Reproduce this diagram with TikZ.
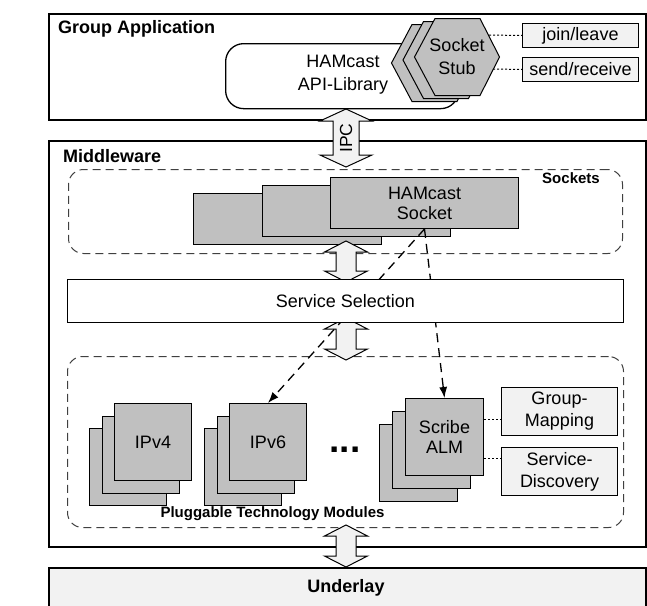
\documentclass[tikz,border=0pt]{standalone}
\usepackage{fontspec}
\setmainfont{Liberation Sans}
\usetikzlibrary{calc,arrows.meta}
\definecolor{gfill}{HTML}{C0C0C0}
\definecolor{lfill}{HTML}{F2F2F2}
\newcommand\myhex[1]{\draw[hexst] ($(#1)+(-42.5,0)$) -- ++(20.5,-38.5) -- ++(45,0) -- ++(19.5,38.5) -- ++(-19.5,38.5) -- ++(-45,0) -- cycle;}
% #1 top tip, #2 bottom tip, #3 shaft half width, #4 head half width, #5 head length
\newcommand\mydblarrow[5]{\draw[blockarrow] (#1) -- ++(#4,#5) -- ++(#3-#4,0) -- ($(#2)+(#3,-#5)$) -- ++(#4-#3,0) -- (#2) -- ++(-#4,-#5) -- ++(#4-#3,0) -- ($(#1)+(-#3,#5)$) -- ++(#3-#4,0) -- cycle;}
\tikzset{
 outerbox/.style={draw, line width=1.8pt, inner sep=0pt, anchor=north west},
 ttl/.style={font=\fontsize{18}{21}\selectfont\bfseries, anchor=west, inner sep=0pt},
 smallttl/.style={font=\fontsize{15}{18}\selectfont\bfseries, inner sep=0pt},
 txt/.style={font=\fontsize{18}{21}\selectfont, align=center, inner sep=0pt},
 gbox/.style={draw, fill=gfill, line width=1pt, inner sep=0pt, anchor=north west, align=center, font=\fontsize{18}{20}\selectfont},
 lbox/.style={draw, fill=lfill, line width=1pt, inner sep=0pt, anchor=north west, align=center, font=\fontsize{18}{22}\selectfont},
 dbox/.style={draw=black!75, dash pattern=on 8pt off 5pt, rounded corners=15pt, line width=1pt, inner sep=0pt, anchor=north west},
 dlink/.style={line width=1.3pt, dash pattern=on 9pt off 6pt, -{Latex[length=11pt,width=8pt]}},
 dotlink/.style={line width=1pt, dash pattern=on 2pt off 2pt},
 blockarrow/.style={draw, fill=lfill, line width=1pt, line join=miter},
 hexst/.style={draw, fill=gfill, line width=1pt, line join=miter},
}
\begin{document}
\begin{tikzpicture}[x=1pt,y=-1pt]
\useasboundingbox (0,0) rectangle (647,605);
\clip (0,0) rectangle (647,605);
% ---------------- Group Application ----------------
\node[outerbox, minimum width=597, minimum height=106] (ga) at (48,13) {};
\node[ttl] (gatitle) at (58,29) {Group Application};
\node[draw, line width=1.3pt, fill=white, rounded corners=18pt, anchor=north west, minimum width=233, minimum height=65, inner sep=0pt] (api) at (225,43) {};
\node[txt, font=\fontsize{18}{23}\selectfont] (apitext) at (343,75) {HAMcast\\API-Library};
\coordinate (hexc) at (434,63);
\coordinate (hexb) at (445.5,60);
\coordinate (hexa) at (457,57);
\myhex{hexc}
\myhex{hexb}
\myhex{hexa}
\node[txt, font=\fontsize{18}{23}\selectfont] (stub) at (457,56.5) {Socket\\Stub};
\node[lbox, minimum width=116, minimum height=24] (jl) at (522,23) {join/leave};
\node[lbox, minimum width=116, minimum height=24] (sr) at (522,57) {send/receive};
\coordinate (h1) at (489,35);
\coordinate (h2) at (493,69);
\draw[dotlink] (h1) -- (jl.west);
\draw[dotlink] (h2) -- (sr.west);
% ---------------- Middleware ----------------
\node[outerbox, minimum width=597, minimum height=406] (mw) at (48,140) {};
\node[ttl] (mwtitle) at (63,156) {Middleware};
\node[dbox, minimum width=554, minimum height=84] (sockets) at (68,169) {};
\node[smallttl] (socklabel) at (571,178) {Sockets};
\node[gbox, minimum width=188, minimum height=51] (sockC) at (193,193) {};
\node[gbox, minimum width=188, minimum height=51] (sockB) at (262,185) {};
\node[gbox, minimum width=188, minimum height=51] (sockA) at (330,177) {HAMcast\\Socket};
\node[dbox, minimum width=556, minimum height=171] (ptm) at (67,356) {};
\node[smallttl] (ptmlabel) at (272.5,514) {Pluggable Technology Modules};
% technology stacks
\node[gbox, minimum width=77, minimum height=77] (ipv4C) at (89,428) {};
\node[gbox, minimum width=77, minimum height=77] (ipv4B) at (101.5,415.5) {};
\node[gbox, minimum width=77, minimum height=77] (ipv4A) at (114,403) {IPv4};
\node[gbox, minimum width=77, minimum height=77] (ipv6C) at (204,428) {};
\node[gbox, minimum width=77, minimum height=77] (ipv6B) at (216.5,415.5) {};
\node[gbox, minimum width=77, minimum height=77] (ipv6A) at (229,403) {IPv6};
\node[font=\fontsize{37}{37}\selectfont\bfseries, anchor=base, inner sep=0pt] (dots) at (345,452) {...};
\node[gbox, minimum width=78, minimum height=77] (scrC) at (379,424) {};
\node[gbox, minimum width=78, minimum height=77] (scrB) at (392,411) {};
\node[gbox, minimum width=78, minimum height=77] (scrA) at (405,398) {Scribe\\ALM};
\node[lbox, minimum width=116, minimum height=48] (gm) at (501,387) {Group-\\Mapping};
\node[lbox, minimum width=116, minimum height=48] (sd) at (501,447) {Service-\\Discovery};
\path ([yshift=-8pt]gm.west) coordinate (g1);
\path ([yshift=13pt]sd.west) coordinate (s1);
\draw[dotlink] (g1 -| scrA.east) -- (g1);
\draw[dotlink] (s1 -| scrA.east) -- (s1);
% block arrows
\coordinate (ipcT) at (346,109);
\coordinate (ipcB) at (346,167);
\mydblarrow{ipcT}{ipcB}{13}{26}{12}
\node[txt, rotate=90, font=\fontsize{17.5}{20}\selectfont] (ipc) at (346,138) {IPC};
\coordinate (a1T) at (346,241);
\coordinate (a1B) at (346,282);
\mydblarrow{a1T}{a1B}{10}{21.5}{11}
\coordinate (a2T) at (346,318);
\coordinate (a2B) at (346,360);
\mydblarrow{a2T}{a2B}{10}{21.5}{11}
% dashed links (behind service selection)
\draw[dlink] (sockA.south) -- (ipv6A.north);
\draw[dlink] (sockA.south) -- (scrA.north);
\node[draw, line width=1pt, fill=white, anchor=north west, minimum width=556, minimum height=43, inner sep=0pt, font=\fontsize{18}{21}\selectfont] (ss) at (67,279) {Service Selection};
% ---------------- Underlay ----------------
\node[outerbox, fill=lfill, minimum width=597, minimum height=60] (ul) at (48,567) {};
\node[ttl, anchor=center] (ultitle) at (346,588) {Underlay};
\coordinate (a3T) at (346,525);
\coordinate (a3B) at (346,567);
\mydblarrow{a3T}{a3B}{10}{21.5}{11}
\end{tikzpicture}
\end{document}
